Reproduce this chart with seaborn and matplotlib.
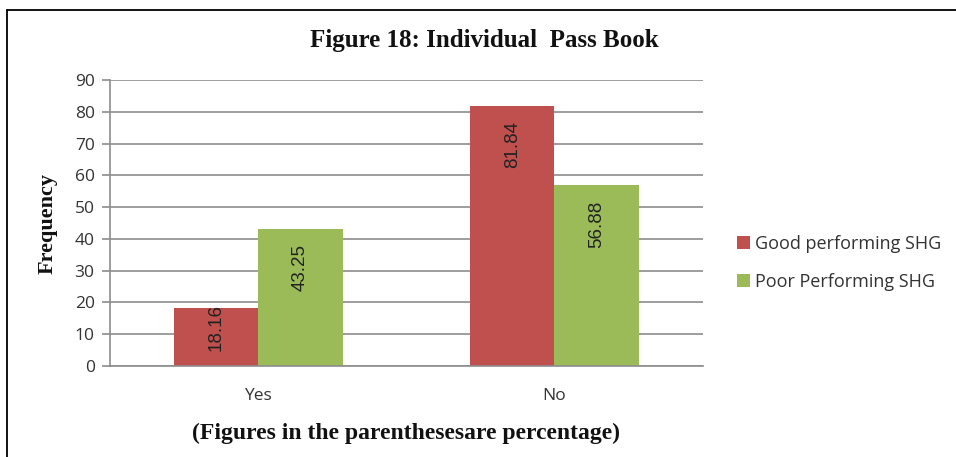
import matplotlib
matplotlib.use("Agg")
import matplotlib.pyplot as plt
from matplotlib.lines import Line2D
import seaborn as sns
import pandas as pd

# Data
categories = ["Yes", "No"]
series_names = ["Good performing SHG", "Poor Performing SHG"]
good_values = [18.16, 81.84]
poor_values = [43.25, 56.88]
y_ticks = [0, 10, 20, 30, 40, 50, 60, 70, 80, 90]

colors = ["#C0504D", "#9BBB59"]
grid_color = "#8C8C8C"

df = pd.DataFrame({
    "Response": categories * 2,
    "Group": [series_names[0]] * len(categories) + [series_names[1]] * len(categories),
    "Frequency": good_values + poor_values,
})

sns.set_theme(style="white")
plt.rcParams["font.family"] = ["Open Sans", "DejaVu Sans"]

fig = plt.figure(figsize=(9.56, 4.57), dpi=100)
ax = fig.add_axes([0.115, 0.199, 0.62, 0.626])

sns.barplot(data=df, x="Response", y="Frequency", hue="Group",
            palette=colors, width=0.57, gap=0, saturation=1,
            edgecolor="none", linewidth=0, ax=ax, legend=True)

ax.set_ylim(0, 90)
ax.set_xlim(-0.5, 1.5)
ax.set_yticks(y_ticks)
ax.yaxis.grid(True, color=grid_color, linewidth=1.2)
ax.set_axisbelow(True)
for side in ["top", "right"]:
    ax.spines[side].set_visible(False)
for side in ["left", "bottom"]:
    ax.spines[side].set_color(grid_color)
    ax.spines[side].set_linewidth(1.2)
ax.tick_params(axis="y", which="both", left=True, length=6, width=1.2,
               color=grid_color, labelsize=12.5, labelcolor="#333333", pad=5)
ax.tick_params(axis="x", bottom=False, labelsize=12.5, labelcolor="#333333", pad=10)

ax.set_xlabel("(Figures in the parenthesesare percentage)", family="Liberation Serif",
              fontweight="bold", fontsize=17, color="#111111", labelpad=13)
ax.set_ylabel("Frequency", family="Liberation Serif", fontweight="bold",
              fontsize=16, color="#111111", labelpad=12)

# Value labels, rotated and placed just inside the top of each bar
fig.canvas.draw()
px_per_unit = ax.transData.transform((0, 1))[1] - ax.transData.transform((0, 0))[1]
pt_per_px = 72.0 / fig.dpi
for container in ax.containers:
    for bar in container:
        h = bar.get_height()
        x = bar.get_x() + bar.get_width() / 2
        bar_px = h * px_per_unit
        drop_px = min(15, bar_px - 62)
        ax.annotate(f"{h:.2f}", xy=(x, h), xytext=(0, -drop_px * pt_per_px),
                    textcoords="offset points", rotation=90, ha="center", va="top",
                    fontsize=13.5, color="#222222", family="Liberation Sans")

handles, labels = ax.get_legend_handles_labels()
ax.legend(handles, labels, loc="center left", bbox_to_anchor=(0.754, 0.425),
          bbox_transform=fig.transFigure, frameon=False, fontsize=13,
          handlelength=0.7, handleheight=0.7, handletextpad=0.3,
          labelspacing=1.1, labelcolor="#333333")

fig.text(0.507, 0.912, "Figure 18: Individual  Pass Book", family="Liberation Serif",
         fontweight="bold", fontsize=18, ha="center", va="center", color="#111111")

# Outer frame lines (top and left)
fig.add_artist(Line2D([0.0075, 1.0], [0.978, 0.978], transform=fig.transFigure,
                      color="black", linewidth=1.3))
fig.add_artist(Line2D([0.0075, 0.0075], [0.0, 0.978], transform=fig.transFigure,
                      color="black", linewidth=1.3))

fig.savefig("out.png", dpi=100, facecolor="white")
